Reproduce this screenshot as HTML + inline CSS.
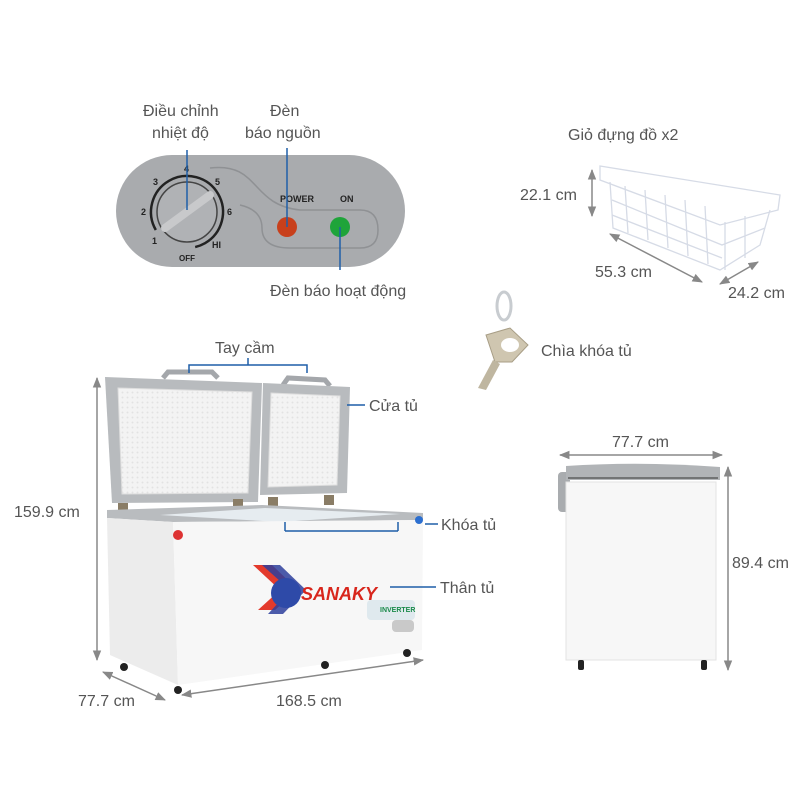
<!DOCTYPE html>
<html><head><meta charset="utf-8"><style>
html,body{margin:0;padding:0;background:#fff;width:800px;height:800px;overflow:hidden}
svg text{font-family:"Liberation Sans",sans-serif;font-size:16px;fill:#555}
</style></head><body>
<svg width="800" height="800" viewBox="0 0 800 800" xmlns="http://www.w3.org/2000/svg">
<defs>
<marker id="ar" viewBox="0 0 10 10" refX="9" refY="5" markerWidth="7" markerHeight="7" orient="auto-start-reverse"><path d="M0,1 L10,5 L0,9 z" fill="#888"/></marker>
<pattern id="dots" width="5" height="5" patternUnits="userSpaceOnUse"><rect width="5" height="5" fill="#f3f3f3"/><circle cx="2.5" cy="2.5" r="1" fill="#e2e2e2"/></pattern>
</defs>

<!-- control panel -->
<rect x="116" y="155" width="289" height="112" rx="56" fill="#a9abae"/>
<path d="M210,168 C260,162 250,205 300,210 L360,210 Q378,210 378,230 Q378,248 360,248 L290,248 Q262,248 262,228 Q262,210 240,205" fill="none" stroke="#8f9194" stroke-width="1.5"/>
<circle cx="187" cy="212" r="36" fill="none" stroke="#222" stroke-width="2.5" stroke-dasharray="180 60" transform="rotate(150 187 212)"/>
<circle cx="187" cy="212" r="30" fill="#b0b2b5" stroke="#444" stroke-width="1.5"/>
<path d="M165,228 L210,195" stroke="#c8c9cb" stroke-width="8" stroke-linecap="round"/>
<g font-size="9" style="font-weight:bold">
<text x="184" y="172" style="font-size:9px;fill:#222">4</text>
<text x="153" y="185" style="font-size:9px;fill:#222">3</text>
<text x="215" y="185" style="font-size:9px;fill:#222">5</text>
<text x="141" y="215" style="font-size:9px;fill:#222">2</text>
<text x="227" y="215" style="font-size:9px;fill:#222">6</text>
<text x="152" y="244" style="font-size:9px;fill:#222">1</text>
<text x="212" y="248" style="font-size:9px;fill:#222">HI</text>
<text x="179" y="261" style="font-size:8px;fill:#222">OFF</text>
<text x="280" y="202" style="font-size:9px;fill:#222;font-weight:bold">POWER</text>
<text x="340" y="202" style="font-size:9px;fill:#222;font-weight:bold">ON</text>
</g>
<circle cx="287" cy="227" r="10" fill="#c8401c"/>
<circle cx="340" cy="227" r="10" fill="#1fa43a"/>
<line x1="187" y1="150" x2="187" y2="210" stroke="#1f5fa8" stroke-width="1.5"/>
<line x1="287" y1="148" x2="287" y2="227" stroke="#1f5fa8" stroke-width="1.5"/>
<line x1="340" y1="227" x2="340" y2="270" stroke="#1f5fa8" stroke-width="1.5"/>
<text x="143" y="116">Điều chỉnh</text>
<text x="152" y="138">nhiệt độ</text>
<text x="270" y="116">Đèn</text>
<text x="245" y="138">báo nguồn</text>
<text x="270" y="296">Đèn báo hoạt động</text>

<!-- basket -->
<text x="568" y="140">Giỏ đựng đồ x2</text>
<g fill="none" stroke="#d6dbe6" stroke-width="1.3">
<path d="M600,166 L780,195 L778,210 L720,225 L600,180 Z"/>
<path d="M610,182 L613,228 L720,270 L760,245 L770,210"/>
<path d="M625,186 L628,233 M645,190 L648,240 M665,195 L668,248 M685,200 L688,256 M705,206 L708,264 M725,222 L725,270 M745,216 L745,258 M612,200 L722,245 L765,228 M612,215 L722,258"/>
</g>
<line x1="592" y1="170" x2="592" y2="216" stroke="#888" stroke-width="1.5" marker-start="url(#ar)" marker-end="url(#ar)"/>
<text x="520" y="200">22.1 cm</text>
<line x1="610" y1="234" x2="702" y2="282" stroke="#888" stroke-width="1.5" marker-start="url(#ar)" marker-end="url(#ar)"/>
<text x="595" y="277">55.3 cm</text>
<line x1="720" y1="284" x2="758" y2="262" stroke="#888" stroke-width="1.5" marker-start="url(#ar)" marker-end="url(#ar)"/>
<text x="728" y="298">24.2 cm</text>

<!-- key -->
<ellipse cx="504" cy="306" rx="7" ry="14" fill="none" stroke="#c8ccd0" stroke-width="3"/>
<path d="M486,335 L510,328 L528,345 L512,362 L495,362 Z" fill="#cfc6b0" stroke="#a89e86"/>
<ellipse cx="510" cy="345" rx="9" ry="7" fill="#fff"/>
<path d="M493,360 L478,388 L486,390 L500,364 Z" fill="#bfb6a0"/>
<text x="541" y="356">Chìa khóa tủ</text>

<!-- main freezer -->
<line x1="97" y1="378" x2="97" y2="660" stroke="#888" stroke-width="1.5" marker-start="url(#ar)" marker-end="url(#ar)"/>
<text x="14" y="517">159.9 cm</text>
<!-- lids -->
<path d="M163,378 L168,372 L212,372 L218,378" fill="none" stroke="#a4a7ab" stroke-width="5"/>
<path d="M283,385 L288,378 L325,380 L330,386" fill="none" stroke="#a4a7ab" stroke-width="5"/>
<polygon points="105,377 262,383 258,502 112,503" fill="#b8bbbe"/>
<polygon points="118,388 252,392 248,493 122,494" fill="url(#dots)" stroke="#ddd"/>
<polygon points="263,383 350,387 347,493 260,495" fill="#b8bbbe"/>
<polygon points="271,393 340,396 337,485 268,487" fill="url(#dots)" stroke="#ddd"/>
<!-- hinges -->
<rect x="118" y="503" width="10" height="10" fill="#8a7d66"/>
<rect x="233" y="499" width="10" height="10" fill="#8a7d66"/>
<rect x="268" y="497" width="10" height="10" fill="#8a7d66"/>
<rect x="324" y="495" width="10" height="10" fill="#8a7d66"/>
<!-- body -->
<polygon points="107,510 262,505 423,513 423,520 173,522 107,518" fill="#b9bcbf"/>
<polygon points="160,515 265,508 400,514 280,522" fill="#e6ecf0"/>
<polygon points="107,518 173,522 178,685 110,655" fill="#ececec"/>
<polygon points="173,522 423,520 422,650 178,685" fill="#f7f7f7"/>
<line x1="285" y1="531" x2="398" y2="531" stroke="#1f5fa8" stroke-width="1.5"/>
<line x1="285" y1="522" x2="285" y2="531" stroke="#1f5fa8" stroke-width="1.5"/>
<line x1="398" y1="522" x2="398" y2="531" stroke="#1f5fa8" stroke-width="1.5"/>
<circle cx="419" cy="520" r="4" fill="#2c6fd0"/>
<line x1="425" y1="524" x2="438" y2="524" stroke="#1f5fa8" stroke-width="1.5"/>
<circle cx="178" cy="535" r="5" fill="#d33"/>
<!-- logo -->
<polygon points="253,565 272,565 298,590 275,610 258,610 280,590" fill="#e33a2c"/>
<polygon points="262,565 280,565 306,590 283,614 268,614 290,590" fill="#2e3f9c" opacity="0.85"/>
<circle cx="286" cy="593" r="15" fill="#2e4aa8"/>
<text x="301" y="600" style="font-size:18px;font-weight:bold;font-style:italic;fill:#d8261c">SANAKY</text>
<rect x="367" y="600" width="48" height="20" rx="4" fill="#dfe9ee"/>
<text x="380" y="612" style="font-size:7px;fill:#1a8a4a;font-weight:bold">INVERTER</text>
<rect x="392" y="620" width="22" height="12" rx="4" fill="#c9c9c9"/>
<!-- wheels -->
<circle cx="124" cy="667" r="4" fill="#222"/>
<circle cx="178" cy="690" r="4" fill="#222"/>
<circle cx="325" cy="665" r="4" fill="#222"/>
<circle cx="407" cy="653" r="4" fill="#222"/>
<line x1="347" y1="405" x2="365" y2="405" stroke="#1f5fa8" stroke-width="1.5"/>
<text x="369" y="411">Cửa tủ</text>
<text x="441" y="530">Khóa tủ</text>
<line x1="390" y1="587" x2="436" y2="587" stroke="#1f5fa8" stroke-width="1.5"/>
<text x="440" y="593">Thân tủ</text>
<path d="M189,373 L189,365 L307,365 L307,373" fill="none" stroke="#1f5fa8" stroke-width="1.5"/>
<line x1="248" y1="358" x2="248" y2="365" stroke="#1f5fa8" stroke-width="1.5"/>
<text x="215" y="353">Tay cầm</text>
<line x1="103" y1="672" x2="165" y2="700" stroke="#888" stroke-width="1.5" marker-start="url(#ar)" marker-end="url(#ar)"/>
<text x="78" y="706">77.7 cm</text>
<line x1="182" y1="695" x2="423" y2="660" stroke="#888" stroke-width="1.5" marker-start="url(#ar)" marker-end="url(#ar)"/>
<text x="276" y="706">168.5 cm</text>

<!-- side view -->
<line x1="560" y1="455" x2="722" y2="455" stroke="#888" stroke-width="1.5" marker-start="url(#ar)" marker-end="url(#ar)"/>
<text x="612" y="447">77.7 cm</text>
<rect x="558" y="472" width="12" height="40" rx="4" fill="#a9acaf"/>
<path d="M566,466 Q640,461 720,467 L720,480 L566,480 Z" fill="#b1b4b7"/>
<line x1="568" y1="478" x2="718" y2="478" stroke="#333" stroke-width="1"/>
<rect x="566" y="482" width="150" height="178" fill="#f7f7f7" stroke="#e3e3e3"/>
<rect x="578" y="660" width="6" height="10" rx="2" fill="#222"/>
<rect x="701" y="660" width="6" height="10" rx="2" fill="#222"/>
<line x1="728" y1="467" x2="728" y2="670" stroke="#888" stroke-width="1.5" marker-start="url(#ar)" marker-end="url(#ar)"/>
<text x="732" y="568">89.4 cm</text>
</svg>
</body></html>
